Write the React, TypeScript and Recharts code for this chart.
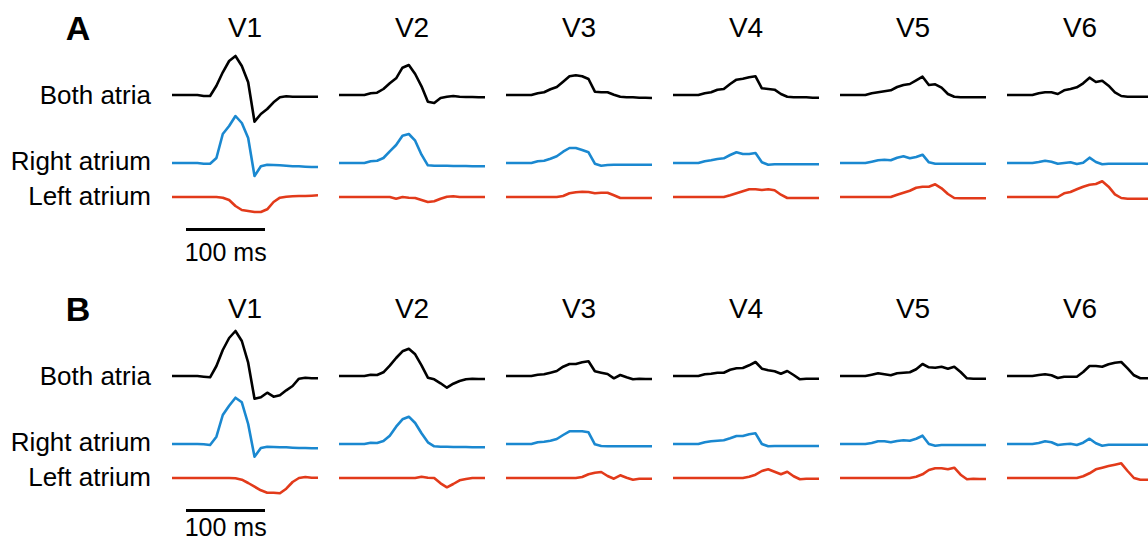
import { LineChart, Line, XAxis, YAxis } from 'recharts'

const leads = ['V1', 'V2', 'V3', 'V4', 'V5', 'V6']
const traceLabels = ['Both atria', 'Right atrium', 'Left atrium']

// time axis, ms
const times = [0, 8, 16, 24, 32, 40, 48, 56, 64, 72, 80, 88, 96, 104, 112, 120, 128, 136, 144, 152, 160, 168, 176, 184]

// panel A, one row per lead (V1..V6)
const bothA = [
  [0, 0, 0, 0, 0, -1, -1, 9.3, 22.7, 34, 39, 29, 12.7, -26.7, -19, -14, -7.3, -2.3, -1.3, -1.7, -1.7, -1.7, -1.7, -1.7],
  [0, 0, 0, 0, 0, 1.7, 2.3, 6, 11.7, 16.7, 27.3, 30, 21, 8.7, -6.7, -8, -3, -1.7, -1, -1.7, -2, -2, -2.3, -2.3],
  [0, 0, 0, 0, 0, 1.7, 2.7, 5.7, 8, 13.3, 18.7, 19.7, 18.7, 16, 3.3, 2.7, 2.7, 0.3, -1.7, -2.3, -2.3, -2.7, -2.7, -3],
  [0, 0, 0, 0, 0, 1.7, 2.7, 5.3, 6, 11, 15.3, 16.3, 17.7, 18.7, 6.7, 6, 5.3, 1, -1.7, -2.3, -2.3, -2.3, -2.7, -2.7],
  [0, 0, 0, 0, 0, 1.7, 2.7, 3.7, 4.7, 8, 10, 11, 14.7, 18.3, 10, 10.7, 7.3, 1, -1.7, -2.3, -2.3, -2.3, -2.3, -2.3],
  [0, 0, 0, 0, 0, 1.7, 2.7, 2.7, 1, 4.7, 6, 7.7, 11.7, 17.3, 13, 14.3, 9.3, 2.7, -1, -1.7, -1.7, -1.7, -1.7, -1.7],
]
const rightA = [
  [0, 0, 0, 0, 0, -0.7, -0.7, 5, 29, 37, 47, 40, 25, -13, -3.3, -1.7, -2, -2.3, -2.7, -3.3, -3.3, -3.7, -4, -4],
  [0, 0, 0, 0, 0, 1.7, 2.3, 5, 11.7, 18, 27.3, 29, 22.3, 8.3, -2.3, -2.7, -2.7, -2.7, -3, -3, -3, -3.3, -3.3, -3.3],
  [0, 0, 0, 0, 0, 1.7, 2.3, 4.3, 6.7, 11.3, 15, 15, 13, 10.7, -0.7, -2.7, -2, -1.7, -1.7, -1.7, -1.7, -1.7, -1.7, -1.7],
  [0, 0, 0, 0, 0, 1.7, 2.7, 4, 4.7, 8, 10.7, 9, 9, 10, 0.7, -1.7, -1.3, -1.3, -1.3, -1.3, -1.3, -1.3, -1.3, -1.3],
  [0, 0, 0, 0, 0, 1.3, 2.7, 3.3, 2.7, 5.3, 6.7, 4.7, 6, 8.3, 0.7, -0.7, -0.7, -0.7, -0.7, -0.7, -0.7, -0.7, -0.7, -0.7],
  [0, 0, 0, 0, 0, 1, 2.3, 1.3, -0.7, 0, 0.7, -1, 0.3, 5.3, 1, -1.3, -0.7, -0.7, -0.7, -0.7, -0.7, -0.7, -0.7, -0.7],
]
const leftA = [
  [0, 0, 0, 0, 0, 0, 0, 0, -0.7, -3, -9, -13, -14, -15, -15, -12.3, -5, -0.7, 0.3, 0.7, 1, 1, 1.3, 1.7],
  [0, 0, 0, 0, 0, 0, 0, 0, 0, -1.7, 0, -0.7, -1, -3, -5, -4.3, -1.7, 0.3, 0.7, 0, 0, 0, 0, 0],
  [0, 0, 0, 0, 0, 0, 0, 0, 0, 1, 3.7, 4.7, 5.3, 5, 3.7, 4.3, 4.3, 1.7, -1, -1, -1, -1, -1, -1],
  [0, 0, 0, 0, 0, 0, 0, 0, 0, 1.7, 3.7, 5.7, 7.7, 7.7, 7, 7.7, 6.7, 2.3, -1, -1, -1, -1, -1, -1],
  [0, 0, 0, 0, 0, 0, 0, 0, 0, 2.3, 4.3, 6.3, 9.3, 10.3, 10.3, 12.7, 8.7, 3, -1, -1.3, -1.3, -1.3, -1.3, -1.3],
  [0, 0, 0, 0, 0, 0, 0, 0, 0, 3.7, 5, 7.7, 10.3, 12.3, 13, 15.7, 10.3, 2.7, -1, -1.7, -1.7, -1.7, -1.7, -1.7],
]

// panel B
const bothB = [
  [0, 0, 0, 0, 0, -0.7, -1.3, 10, 26, 38, 45, 35, 13.3, -22.7, -21.3, -16.7, -20.7, -19.3, -14.3, -10, -2.7, -1.7, -2.3, -2.3],
  [0, 0, 0, 0, 0, 1.3, 1, 3.7, 10.3, 18, 24.7, 27.3, 21.7, 10.7, -1.7, -3.3, -7.3, -11.7, -7.7, -5, -3.3, -2.7, -3, -3],
  [0, 0, 0, 0, 0, 1.3, 1.7, 3.3, 5, 9.3, 12, 12, 13.7, 14.7, 4.7, 3.3, 2, -2.3, 1, -1.3, -3.3, -2.7, -3, -3],
  [0, 0, 0, 0, 0, 1.7, 2.3, 3.3, 3.3, 6.3, 7.7, 8, 10.7, 14, 7.3, 5.7, 4.7, 2.3, 5, 1, -3.3, -2.7, -2.7, -2.7],
  [0, 0, 0, 0, 0, 1.3, 2.7, 1.7, 0.7, 2.7, 3.3, 3.7, 6.7, 12, 8.7, 8.3, 9.3, 7.3, 9.3, 4, -2.3, -2.7, -2.7, -2.7],
  [0, 0, 0, 0, 0, 1, 1.7, 0.7, -2, -0.7, -0.7, -0.7, 4, 10, 10, 9.3, 11.7, 13.3, 14, 7.7, 0.7, -2.3, -2.3, -2.3],
]
const rightB = [
  [0, 0, 0, 0, 0, -0.3, -1, 7.3, 29, 38.3, 46.3, 41.7, 20, -12.7, -4, -2.7, -3, -3.3, -3.3, -3.7, -4, -4, -4.3, -4.3],
  [0, 0, 0, 0, 0, 1.3, 1, 3, 8.3, 17.3, 24.7, 27.3, 21, 10.7, 1.7, -2.3, -2.7, -2.7, -3, -3, -3, -3.3, -3.3, -3.3],
  [0, 0, 0, 0, 0, 1.7, 2.3, 3.3, 5, 9, 12.7, 12.7, 12.7, 11.7, -0.3, -2, -2.3, -2.3, -2.3, -2.3, -2.3, -2.3, -2.3, -2.3],
  [0, 0, 0, 0, 0, 1.7, 2.7, 3.3, 3.7, 5.7, 8, 8, 9.7, 10.7, 0, -2.3, -2, -2, -2, -2, -2, -2, -2, -2],
  [0, 0, 0, 0, 0, 1, 2.7, 2.7, 1.7, 3, 3.7, 3.3, 5.3, 8.3, 0, -1.7, -1, -1, -1, -1, -1, -1, -1, -1],
  [0, 0, 0, 0, 0, 1, 2.7, 1.7, -1, -0.3, 0.3, -1, 1.3, 5.3, 0.7, -1.7, -0.7, -0.7, -0.7, -0.7, -0.7, -0.7, -0.7, -0.7],
]
const leftB = [
  [0, 0, 0, 0, 0, 0, 0, 0, 0, 0, -0.3, -1.7, -5, -8.7, -12.3, -14.7, -14.7, -15.3, -10.7, -4, 0, 1, 0.3, 0.3],
  [0, 0, 0, 0, 0, 0, 0, 0, 0, 0, 0, 0, 0, 1.3, 0.3, 0, -5.3, -9.3, -6, -2.3, -1, 0, 0, 0],
  [0, 0, 0, 0, 0, 0, 0, 0, 0, 0, 0, 0, 1, 3.7, 5.3, 6, 2, -0.7, 2.7, 0.3, -1.7, -0.7, -0.7, -0.7],
  [0, 0, 0, 0, 0, 0, 0, 0, 0, 0, 0, 0, 1.3, 3.3, 7, 8.7, 6.3, 3.7, 6.3, 1.7, -1.3, -0.7, -0.7, -0.7],
  [0, 0, 0, 0, 0, 0, 0, 0, 0, 0, 0, 0, 1.3, 3.7, 8, 9.7, 9.7, 8.7, 10.3, 3.3, -1.3, -0.7, -1, -1],
  [0, 0, 0, 0, 0, 0, 0, 0, 0, 0, 0, 0, 1.7, 4.7, 8.7, 10.3, 12, 13.3, 14.7, 7, 0, -1.7, -1.7, -1.7],
]

const COLORS = { both: '#000000', right: '#1a88d0', left: '#e23a1a' }
const FONT = '"Liberation Sans", Arial, Helvetica, sans-serif'

// layout (px)
const PAGE_W = 1148
const PAGE_H = 543
const CHART_W = 146
const Y_TOP = 60
const Y_BOTTOM = -125
const CHART_H = Y_TOP - Y_BOTTOM
const RIGHT_OFFSET = -68
const LEFT_OFFSET = -102
const COL_X0 = 172
const COL_STEP = 167
const SPAN = times[times.length - 1]
const BAR_W = (100 * CHART_W) / SPAN

function LeadChart({ both, right, left }: { both: number[]; right: number[]; left: number[] }) {
  const data = times.map((t, i) => ({
    t,
    both: both[i],
    right: right[i] + RIGHT_OFFSET,
    left: left[i] + LEFT_OFFSET,
  }))
  return (
    <LineChart width={CHART_W} height={CHART_H} data={data} margin={{ top: 0, right: 0, bottom: 0, left: 0 }}>
      <XAxis dataKey="t" type="number" domain={[0, SPAN]} hide />
      <YAxis type="number" domain={[Y_BOTTOM, Y_TOP]} hide allowDataOverflow />
      <Line dataKey="both" stroke={COLORS.both} strokeWidth={2.6} dot={false} isAnimationActive={false} strokeLinejoin="round" />
      <Line dataKey="right" stroke={COLORS.right} strokeWidth={2.6} dot={false} isAnimationActive={false} strokeLinejoin="round" />
      <Line dataKey="left" stroke={COLORS.left} strokeWidth={2.6} dot={false} isAnimationActive={false} strokeLinejoin="round" />
    </LineChart>
  )
}

function Panel({ letter, top, both, right, left }: { letter: string; top: number; both: number[][]; right: number[][]; left: number[][] }) {
  // top = y of the lead titles' centre
  const base = top + 67 // black baseline
  const labelY = [base, base + 66, base + 101]
  // scale-bar caption, kept inside the page
  const msY = Math.min(top + 224, PAGE_H - 16)
  return (
    <>
      <div style={{ position: 'absolute', left: 48, top: top - 20, width: 60, textAlign: 'center', fontSize: 34, fontWeight: 'bold', lineHeight: '40px' }}>
        {letter}
      </div>
      {leads.map((name, k) => (
        <div key={name}>
          <div style={{ position: 'absolute', left: COL_X0 + k * COL_STEP + CHART_W / 2 - 50, top: top - 17, width: 100, textAlign: 'center', fontSize: 28, lineHeight: '34px' }}>
            {name}
          </div>
          <div style={{ position: 'absolute', left: COL_X0 + k * COL_STEP, top: base - Y_TOP }}>
            <LeadChart both={both[k]} right={right[k]} left={left[k]} />
          </div>
        </div>
      ))}
      {traceLabels.map((lab, i) => (
        <div key={lab} style={{ position: 'absolute', right: PAGE_W - 151, top: labelY[i] - 15, fontSize: 26, lineHeight: '30px', whiteSpace: 'nowrap' }}>
          {lab}
        </div>
      ))}
      <div style={{ position: 'absolute', left: 186, top: top + 200, width: BAR_W, height: 3, background: '#000' }} />
      <div style={{ position: 'absolute', left: 186 + BAR_W / 2 - 60, top: msY - 14, width: 120, textAlign: 'center', fontSize: 25, lineHeight: '28px' }}>
        100 ms
      </div>
    </>
  )
}

export default function App() {
  return (
    <div style={{ position: 'absolute', left: 0, top: 0, width: PAGE_W, height: PAGE_H, overflow: 'hidden', background: '#fff', fontFamily: FONT, color: '#000' }}>
      <Panel letter="A" top={28} both={bothA} right={rightA} left={leftA} />
      <Panel letter="B" top={309} both={bothB} right={rightB} left={leftB} />
    </div>
  )
}
